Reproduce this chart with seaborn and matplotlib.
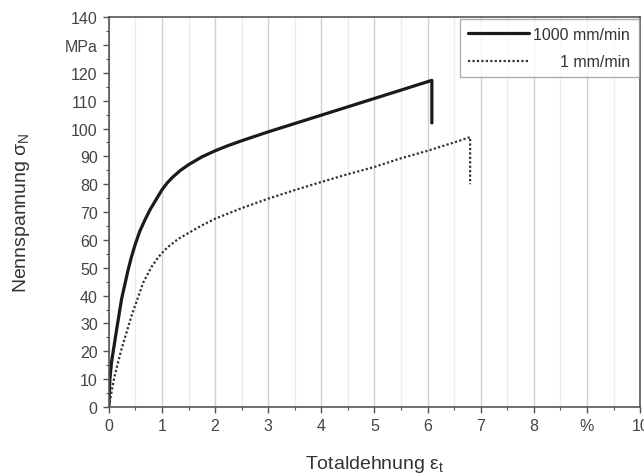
import matplotlib
matplotlib.use("Agg")
import matplotlib.pyplot as plt
import seaborn as sns
import pandas as pd
from matplotlib.ticker import MultipleLocator

# ---- data ----
fast_label = "1000 mm/min"
fast_x = [0, 0.02, 0.05, 0.14, 0.24, 0.36, 0.42, 0.49, 0.58, 0.68, 0.78, 0.9,
          1.0, 1.1, 1.2, 1.35, 1.5, 1.75, 2.0, 2.25, 2.5, 3.0, 3.5, 4.0, 4.5,
          5.0, 5.5, 6.08, 6.08]
fast_y = [0, 10, 16, 27, 38.8, 49, 53.5, 58, 63, 67.2, 71, 74.8,
          78, 80.5, 82.5, 85, 87, 89.8, 92, 93.9, 95.6, 98.8, 101.8, 104.8,
          107.8, 110.8, 113.8, 117.3, 102]

slow_label = "1 mm/min"
slow_x = [0, 0.05, 0.11, 0.24, 0.43, 0.65, 0.8, 0.93, 1.1, 1.31, 1.53, 1.75,
          2.0, 2.5, 3.0, 3.5, 4.0, 4.5, 5.0, 5.48, 6.0, 6.5, 6.8, 6.8]
slow_y = [0, 5.3, 11.3, 20.9, 32.9, 44.8, 50.2, 53.8, 57.3, 60.4, 62.8, 65.2,
          67.6, 71.4, 74.8, 77.9, 80.8, 83.6, 86.2, 89.2, 92, 95.0, 96.9, 80]

x_ticks = [0, 1, 2, 3, 4, 5, 6, 7, 8, 9, 10]
x_ticklabels = ["0", "1", "2", "3", "4", "5", "6", "7", "8", "%", "10"]
y_ticks = [0, 10, 20, 30, 40, 50, 60, 70, 80, 90, 100, 110, 120, 130, 140]
y_ticklabels = ["0", "10", "20", "30", "40", "50", "60", "70", "80", "90",
                "100", "110", "120", "MPa", "140"]

sns.set_theme(style="white")
plt.rcParams["font.family"] = ["Liberation Sans", "DejaVu Sans"]
plt.rcParams["mathtext.fontset"] = "custom"
plt.rcParams["mathtext.rm"] = "Liberation Sans"
plt.rcParams["mathtext.it"] = "Liberation Sans:italic"

fig = plt.figure(figsize=(6.44, 4.77), dpi=100)
ax = fig.add_axes([0.169, 0.1447, 0.825, 0.8173])

df_fast = pd.DataFrame({"x": fast_x, "y": fast_y})
df_slow = pd.DataFrame({"x": slow_x, "y": slow_y})

# right-align legend labels by padding the shorter one with spaces
pad = " " * (2 * (len(fast_label) - len(slow_label)))

sns.lineplot(data=df_fast, x="x", y="y", ax=ax, sort=False, color="#1a1a1a",
             linewidth=2.3, label=fast_label, estimator=None)
sns.lineplot(data=df_slow, x="x", y="y", ax=ax, sort=False, color="#333333",
             linewidth=1.6, linestyle=(0, (1, 1)), label=pad + slow_label,
             estimator=None)

ax.set_xlim(0, 10)
ax.set_ylim(0, 140)
ax.set_xticks(x_ticks)
ax.set_xticklabels(x_ticklabels)
ax.set_yticks(y_ticks)
ax.set_yticklabels(y_ticklabels)
ax.xaxis.set_minor_locator(MultipleLocator(0.5))
ax.yaxis.set_minor_locator(MultipleLocator(5))

ax.grid(False)
ax.grid(True, axis="x", which="major", color="#cfcfcf", linewidth=1.0)
ax.grid(True, axis="x", which="minor", color="#ebebeb", linewidth=1.0)
ax.set_axisbelow(True)

for s in ax.spines.values():
    s.set_color("#555555")
    s.set_linewidth(1.2)

ax.tick_params(axis="both", which="major", direction="out", length=4, width=1,
               color="#555555", labelsize=11.5, labelcolor="#444444", pad=4,
               bottom=True, left=True)
ax.tick_params(axis="both", which="minor", direction="out", length=2.5, width=0.8,
               color="#555555", bottom=True, left=True)

ax.set_xlabel("Totaldehnung ε$_\\mathrm{t}$", fontsize=14,
              color="#333333", labelpad=14)
ax.set_ylabel("Nennspannung σ$_\\mathrm{N}$", fontsize=14,
              color="#333333", labelpad=24)

leg = ax.legend(loc="upper right", frameon=True, fontsize=11.5, handlelength=3.8,
                borderaxespad=0.1, handletextpad=0.3, labelspacing=0.8,
                borderpad=0.5, fancybox=False, edgecolor="#999999")
leg.get_frame().set_linewidth(1.0)
for t in leg.get_texts():
    t.set_color("#333333")

fig.savefig("out.png", dpi=100)
